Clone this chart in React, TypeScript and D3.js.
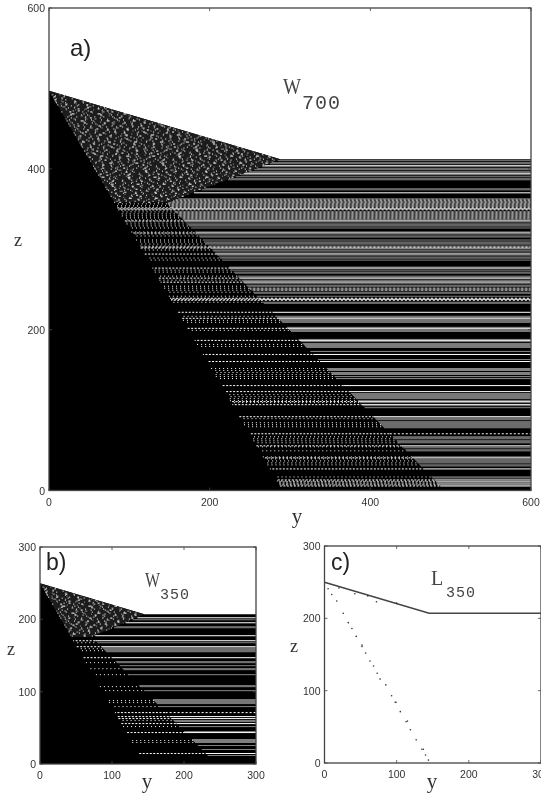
import React from 'react';
import * as d3 from 'd3';

// stripe rows read top to bottom, one letter per image row:
// k black, g grey, w white, d dotted, m mesh
const rowsA = [
  'kgkggkwgkg', 'gkggwgkgkg', 'gkkkkkkkkg', 'gkkwkkkkkg', 'mmmmmmmmdw', 'dkmmmmmmmm',
  'gwgkgggkgk', 'kkgwgkggkk', 'gkgggkgdwk', 'ggkgwgkggk', 'gkkkkkkgwk', 'gkggkkggwk',
  'ggwgkggkmm', 'mkggkkgkdw', 'dkggkkkkkk', 'kkwkkkggwg', 'gggkkkkgwg', 'ggkkkkkkkg',
  'wgkgggggkk', 'kgkkwkkkkg', 'kwkkkkkkgg', 'gkgggkgkgk', 'kkkkkwkkkk', 'kwkggggggk',
  'gwgkwgkgkk', 'kkkkkkwggg', 'kgggggggkk', 'kkkdkkgggk', 'gggkkwggkg', 'gkkkkkgwgg',
  'gggkggkkwk', 'kkkkkkggkw', 'gwkwgwkkkk',
].join('');
const rowsB = [
  'kkkwkgkkwk', 'kkggkkkkkk', 'kwkkkkwkgk', 'kkwgggggkk', 'kkkwkkkggk', 'kgkkggkkkk',
  'gkkkkkkkkk', 'kggkkkgkkk', 'kkkkkggggg', 'kkgkkkkkdk', 'kkwkwkggkw', 'kkgkkkkgwk',
  'kkkkkggggk', 'kgkkkgkkkw', 'kgkkkkkkkk',
].join('');

// piecewise edges of the regions, z -> y
const blackEdgeZ = [0, 497];
const blackEdgeY = [291, 0];
const outerEdgeZ = [0, 358, 412, 497];
const outerEdgeY = [493, 147, 288, 0];
const blackEdgeZb = [0, 250];
const blackEdgeYb = [146, 0];
const outerEdgeZb = [0, 176, 207, 250];
const outerEdgeYb = [245, 72, 145, 0];

// speckle dashes for the noisy wedge
const speckDash = ['1 7 2 11', '1 9 1 5', '3 9 1 13', '1 5 1 12 2 9', '1 11 2 6', '1 8', '1 13 1 4 2 8'];
// phase of the dots per row in the stippled band
const dotPhase = [0, 2, 1, 3, 1, 0, 3, 2];

// panel c
const lineY = [0, 145, 300];
const lineZ = [250, 207, 207];
const scatterY = [5, 10, 17, 26, 33, 38, 44, 52, 52, 57, 63, 68, 73, 77, 85, 93, 98, 99, 105, 113, 115, 119, 127, 135, 137, 140, 144, 42, 72, 20, 60, 100];
const scatterZ = [241, 233, 224, 207, 194, 186, 175, 163, 161, 152, 141, 134, 124, 116, 108, 93, 84, 84, 71, 57, 58, 46, 32, 19, 19, 11, 4, 234, 223, 242, 231, 221];

const ticksA = [0, 200, 400, 600];
const ticksB = [0, 100, 200, 300];

const INK = '#444';
const LABEL = '#333';
const SANS = '"Liberation Sans", Arial, sans-serif';
const SERIF = '"Liberation Serif", serif';
const MONO = '"Liberation Mono", "Courier New", monospace';

type Box = { x0: number; x1: number; y0: number; y1: number };

function Frame({ box, ticks, sx, sy }: { box: Box; ticks: number[]; sx: any; sy: any }) {
  const len = 3;
  return (
    <g>
      <rect x={box.x0} y={box.y0} width={box.x1 - box.x0} height={box.y1 - box.y0} fill="none" stroke={INK} strokeWidth={1.3} />
      {ticks.map((t) => (
        <g key={t} stroke={INK} strokeWidth={0.8}>
          <line x1={sx(t)} x2={sx(t)} y1={box.y1} y2={box.y1 - len} />
          <line x1={sx(t)} x2={sx(t)} y1={box.y0} y2={box.y0 + len} />
          <line y1={sy(t)} y2={sy(t)} x1={box.x0} x2={box.x0 + len} />
          <line y1={sy(t)} y2={sy(t)} x1={box.x1} x2={box.x1 - len} />
        </g>
      ))}
      {ticks.map((t) => (
        <text key={'x' + t} x={sx(t)} y={box.y1 + 15} textAnchor="middle" fontFamily={SANS} fontSize={10.5} fill={LABEL}>
          {t}
        </text>
      ))}
      {ticks.map((t) => (
        <text key={'y' + t} x={box.x0 - 4} y={sy(t) + 4} textAnchor="end" fontFamily={SANS} fontSize={10.5} fill={LABEL}>
          {t}
        </text>
      ))}
    </g>
  );
}

function Stripes({ box, rows, zMax, zTop, blackZ, blackY, outerZ, outerY }: {
  box: Box; rows: string; zMax: number; zTop: number;
  blackZ: number[]; blackY: number[]; outerZ: number[]; outerY: number[];
}) {
  const sx = d3.scaleLinear().domain([0, zMax]).range([box.x0, box.x1]);
  const sy = d3.scaleLinear().domain([0, zMax]).range([box.y1, box.y0]);
  const black = d3.scaleLinear().domain(blackZ).range(blackY);
  const outer = d3.scaleLinear().domain(outerZ).range(outerY);
  const step = zTop / rows.length;
  const rowH = sy(0) - sy(step);
  const kink = outerZ[1];
  const apex = outerZ[3];

  // black ground under every row
  const ground = d3.line<number[]>().x((d) => sx(d[0])).y((d) => sy(d[1]));
  const groundPts = [[0, apex], [outerY[2], outerZ[2]], [zMax, outerZ[2]], [zMax, 0], [0, 0]];
  const wedgePts = [[0, apex], [outerY[2], outerZ[2]], [outerY[1], kink], [black(kink), kink]];
  const wedgeRows = d3.range(apex, kink, -step);

  return (
    <g>
      <path d={ground(groundPts) + 'Z'} fill="#000" />
      <path d={ground(wedgePts) + 'Z'} fill="#1e1e1e" />
      {wedgeRows.map((z, i) => {
        const xa = sx(black(z));
        const xb = sx(outer(z));
        return xb > xa ? (
          <line
            key={'w' + i}
            x1={xa}
            x2={xb}
            y1={sy(z)}
            y2={sy(z)}
            stroke={i % 3 === 1 ? '#999' : '#fff'}
            strokeWidth={1}
            strokeDasharray={speckDash[i % speckDash.length]}
            strokeDashoffset={i * 3}
          />
        ) : null;
      })}
      {rows.split('').map((c, i) => {
        const z = zTop - i * step;
        const y = sy(z);
        const xa = sx(outer(z));
        const xb = box.x1;
        const xc = sx(black(z));
        const mid = y + rowH / 2;
        const bright = c === 'w' || c === 'd';
        return (
          <g key={i}>
            {c === 'g' && <rect x={xa} y={y} width={xb - xa} height={rowH} fill="#858585" />}
            {c === 'w' && <rect x={xa} y={y} width={xb - xa} height={rowH} fill="#fff" />}
            {c === 'm' && <rect x={xa} y={y} width={xb - xa} height={rowH} fill="#555" />}
            {c === 'm' && <line x1={xa} x2={xb} y1={mid} y2={mid} stroke="#bbb" strokeDasharray="2 2" strokeDashoffset={i} />}
            {c === 'd' && <line x1={xa} x2={xb} y1={mid} y2={mid} stroke="#fff" strokeDasharray="2 2" />}
            {z < kink && (bright || (c !== 'k' && i % 2 === 0)) && (
              <line
                x1={xc}
                x2={xa}
                y1={mid}
                y2={mid}
                stroke="#fff"
                strokeDasharray={bright ? '2 1.5' : '1 3'}
                strokeDashoffset={dotPhase[i % dotPhase.length]}
              />
            )}
          </g>
        );
      })}
    </g>
  );
}

const boxA: Box = { x0: 49, x1: 531, y0: 8, y1: 490.5 };
const boxB: Box = { x0: 40, x1: 256, y0: 547, y1: 764 };
const boxC: Box = { x0: 324.5, x1: 541, y0: 546, y1: 763 };

export default function App() {
  const ax = d3.scaleLinear().domain([0, 600]).range([boxA.x0, boxA.x1]);
  const ay = d3.scaleLinear().domain([0, 600]).range([boxA.y1, boxA.y0]);
  const bx = d3.scaleLinear().domain([0, 300]).range([boxB.x0, boxB.x1]);
  const by = d3.scaleLinear().domain([0, 300]).range([boxB.y1, boxB.y0]);
  const cx = d3.scaleLinear().domain([0, 300]).range([boxC.x0, boxC.x1]);
  const cy = d3.scaleLinear().domain([0, 300]).range([boxC.y1, boxC.y0]);
  const cLine = d3.line<number>().x((d) => cx(d)).y((_, i) => cy(lineZ[i]));

  return (
    <svg width={541} height={804} style={{ position: 'absolute', left: 0, top: 0, background: '#fff' }}>
      <defs>
        <filter id="soft" x="0" y="0" width="100%" height="100%">
          <feGaussianBlur stdDeviation="0.3" />
        </filter>
      </defs>
      <g filter="url(#soft)">
        <Stripes box={boxA} rows={rowsA} zMax={600} zTop={412} blackZ={blackEdgeZ} blackY={blackEdgeY} outerZ={outerEdgeZ} outerY={outerEdgeY} />
        <Frame box={boxA} ticks={ticksA} sx={ax} sy={ay} />
        <text x={70} y={56} fontFamily={SANS} fontSize={24} fill="#222">a)</text>
        <text x={283} y={94} fontFamily={SERIF} fontSize={24} textLength={18} lengthAdjust="spacingAndGlyphs" fill="#444">W</text>
        <text x={302} y={109} fontFamily={MONO} fontSize={20} letterSpacing={1} fill="#444">700</text>
        <text x={18} y={246} textAnchor="middle" fontFamily={SERIF} fontSize={18} fill="#333">z</text>
        <text x={297} y={523} textAnchor="middle" fontFamily={SERIF} fontSize={21} fill="#333">y</text>

        <Stripes box={boxB} rows={rowsB} zMax={300} zTop={207} blackZ={blackEdgeZb} blackY={blackEdgeYb} outerZ={outerEdgeZb} outerY={outerEdgeYb} />
        <Frame box={boxB} ticks={ticksB} sx={bx} sy={by} />
        <text x={46} y={570} fontFamily={SANS} fontSize={23} fill="#222">b)</text>
        <text x={145} y={587} fontFamily={SERIF} fontSize={20} textLength={15} lengthAdjust="spacingAndGlyphs" fill="#444">W</text>
        <text x={160} y={599} fontFamily={MONO} fontSize={15} letterSpacing={1} fill="#444">350</text>
        <text x={11} y={655} textAnchor="middle" fontFamily={SERIF} fontSize={18} fill="#333">z</text>
        <text x={147} y={788} textAnchor="middle" fontFamily={SERIF} fontSize={21} fill="#333">y</text>

        <path d={cLine(lineY) || ''} fill="none" stroke="#444" strokeWidth={1.6} />
        {scatterY.map((v, i) => (
          <circle key={i} cx={cx(v)} cy={cy(scatterZ[i])} r={0.8} fill="#333" />
        ))}
        <Frame box={boxC} ticks={ticksB} sx={cx} sy={cy} />
        <text x={331} y={570} fontFamily={SANS} fontSize={23} fill="#222">c)</text>
        <text x={431} y={585} fontFamily={SERIF} fontSize={20} fill="#444">L</text>
        <text x={446} y={597} fontFamily={MONO} fontSize={15} letterSpacing={1} fill="#444">350</text>
        <text x={294} y={652} textAnchor="middle" fontFamily={SERIF} fontSize={18} fill="#333">z</text>
        <text x={432} y={788} textAnchor="middle" fontFamily={SERIF} fontSize={21} fill="#333">y</text>
      </g>
    </svg>
  );
}
